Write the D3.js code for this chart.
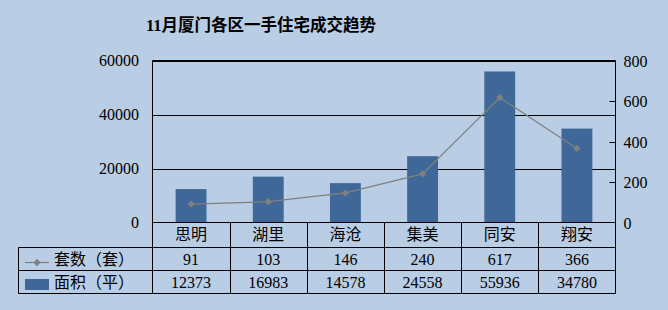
<!DOCTYPE html>
<html>
<head>
<meta charset="utf-8">
<script src="https://cdn.jsdelivr.net/npm/d3@7"></script>
<style>
  body { margin: 0; padding: 0; }
  svg { display: block; }
  text { font-family: "Liberation Serif", "Noto Sans CJK SC", serif; fill: #000; }
</style>
</head>
<body>
<div id="chart"></div>
<script>
var districts = ["思明", "湖里", "海沧", "集美", "同安", "翔安"];
var units = [91, 103, 146, 240, 617, 366];
var areas = [12373, 16983, 14578, 24558, 55936, 34780];
var leftTicks = [0, 20000, 40000, 60000];
var rightTicks = [0, 200, 400, 600, 800];
var unitsLabel = "套数（套）";
var areaLabel = "面积（平）";
var title = "11月厦门各区一手住宅成交趋势";

var svgWidth = 668, svgHeight = 310;
var plot = { left: 152.5, right: 615.5, top: 60.5, bottom: 222.5 };
var table = { left: 18.5, row1: 247.5, row2: 270.5, row3: 293.5 };

var svg = d3.select("#chart").append("svg")
  .attr("width", svgWidth)
  .attr("height", svgHeight);

svg.append("rect")
  .attr("width", svgWidth).attr("height", svgHeight)
  .attr("fill", "#b9cde5");

// title
svg.append("text")
  .attr("x", 261).attr("y", 31)
  .attr("text-anchor", "middle")
  .attr("font-size", 16.5).attr("font-weight", "bold")
  .text(title);

// scales
var x = d3.scaleBand().domain(districts).range([plot.left, plot.right]);
var yLeft = d3.scaleLinear().domain([0, 60000]).range([plot.bottom, plot.top]);
var yRight = d3.scaleLinear().domain([0, 800]).range([plot.bottom, plot.top]);

// gridlines
svg.append("g").selectAll("line")
  .data(leftTicks.slice(1))
  .enter().append("line")
  .attr("x1", plot.left).attr("x2", plot.right)
  .attr("y1", d => Math.round(yLeft(d)) + 0.5)
  .attr("y2", d => Math.round(yLeft(d)) + 0.5)
  .attr("stroke", "#000");

// left axis labels
svg.append("g").selectAll("text")
  .data(leftTicks)
  .enter().append("text")
  .attr("x", 139).attr("y", d => yLeft(d) + 5.5)
  .attr("text-anchor", "end")
  .attr("font-size", 16)
  .text(d => d);

// right axis
var rightAxis = d3.axisRight(yRight).tickValues(rightTicks).tickSize(0).tickPadding(8);
var ra = svg.append("g")
  .attr("transform", `translate(${plot.right},0)`)
  .call(rightAxis);
ra.select(".domain").remove();
ra.selectAll("text").attr("font-size", 16).attr("font-family", null).attr("dy", "0.35em");
svg.append("g").selectAll("line")
  .data(rightTicks.slice(1, -1))
  .enter().append("line")
  .attr("x1", plot.right - 6).attr("x2", plot.right)
  .attr("y1", d => Math.round(yRight(d)) + 0.5)
  .attr("y2", d => Math.round(yRight(d)) + 0.5)
  .attr("stroke", "#000");

// bars
var barW = x.bandwidth() * 0.4;
svg.append("g").selectAll("rect")
  .data(districts)
  .enter().append("rect")
  .attr("x", (d) => x(d) + (x.bandwidth() - barW) / 2)
  .attr("y", (d, i) => yLeft(areas[i]))
  .attr("width", barW)
  .attr("height", (d, i) => plot.bottom - yLeft(areas[i]))
  .attr("fill", "#3f6898");

// line
var line = d3.line()
  .x((d, i) => x(districts[i]) + x.bandwidth() / 2)
  .y(d => yRight(d));
svg.append("path")
  .datum(units)
  .attr("d", line)
  .attr("fill", "none")
  .attr("stroke", "#808080")
  .attr("stroke-width", 1.2);

var diamond = d3.symbol().type(d3.symbolDiamond2 || d3.symbolDiamond).size(34);
svg.append("g").selectAll("path")
  .data(units)
  .enter().append("path")
  .attr("d", diamond)
  .attr("transform", (d, i) => `translate(${x(districts[i]) + x.bandwidth() / 2},${yRight(d)})`)
  .attr("fill", "#808080");

// frame and table lines
var frame = svg.append("g").attr("stroke", "#000").attr("fill", "none");
frame.append("line").attr("x1", plot.left).attr("x2", plot.right).attr("y1", plot.top).attr("y2", plot.top);
frame.append("line").attr("x1", plot.left).attr("x2", plot.right).attr("y1", plot.bottom).attr("y2", plot.bottom);
frame.append("line").attr("x1", plot.left).attr("x2", plot.left).attr("y1", plot.top).attr("y2", table.row3);
frame.append("line").attr("x1", plot.right).attr("x2", plot.right).attr("y1", plot.top).attr("y2", table.row3);
[table.row1, table.row2, table.row3].forEach(function(y) {
  frame.append("line").attr("x1", table.left).attr("x2", plot.right).attr("y1", y).attr("y2", y);
});
frame.append("line").attr("x1", table.left).attr("x2", table.left).attr("y1", table.row1).attr("y2", table.row3);
frame.selectAll(".col")
  .data(districts.slice(1))
  .enter().append("line")
  .attr("x1", d => Math.round(x(d)) + 0.5).attr("x2", d => Math.round(x(d)) + 0.5)
  .attr("y1", plot.bottom).attr("y2", table.row3);

// table text
var cx = d => x(d) + x.bandwidth() / 2;
svg.append("g").selectAll("text")
  .data(districts)
  .enter().append("text")
  .attr("x", cx).attr("y", 240)
  .attr("text-anchor", "middle").attr("font-size", 16)
  .text(d => d);
svg.append("g").selectAll("text")
  .data(units)
  .enter().append("text")
  .attr("x", (d, i) => cx(districts[i])).attr("y", 265)
  .attr("text-anchor", "middle").attr("font-size", 16)
  .text(d => d);
svg.append("g").selectAll("text")
  .data(areas)
  .enter().append("text")
  .attr("x", (d, i) => cx(districts[i])).attr("y", 288)
  .attr("text-anchor", "middle").attr("font-size", 16)
  .text(d => d);

// legend keys in table
svg.append("line")
  .attr("x1", 25).attr("x2", 49).attr("y1", 262.5).attr("y2", 262.5)
  .attr("stroke", "#808080").attr("stroke-width", 1.2);
svg.append("path")
  .attr("d", diamond)
  .attr("transform", "translate(37,262.5)")
  .attr("fill", "#808080");
svg.append("text").attr("x", 54).attr("y", 265).attr("font-size", 16).text(unitsLabel);
svg.append("rect")
  .attr("x", 25).attr("y", 279).attr("width", 24).attr("height", 11)
  .attr("fill", "#3f6898");
svg.append("text").attr("x", 54).attr("y", 288).attr("font-size", 16).text(areaLabel);
</script>
</body>
</html>
